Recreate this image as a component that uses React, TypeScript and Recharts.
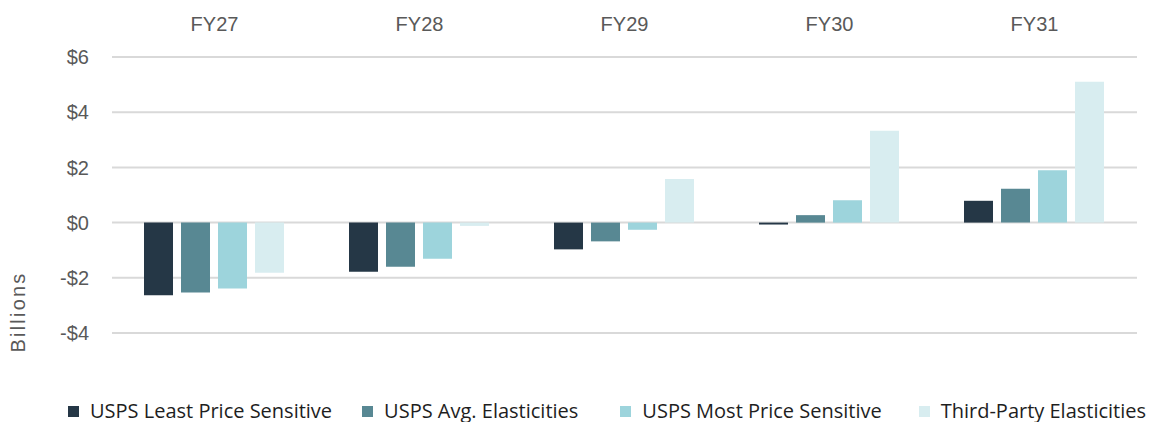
import React from 'react'
import {
    BarChart,
    Bar,
    XAxis,
    YAxis,
    CartesianGrid,
} from 'recharts'

const FISCAL_YEARS = ['FY27', 'FY28', 'FY29', 'FY30', 'FY31']
const LEAST_SENSITIVE = [-2.63, -1.78, -0.97, -0.07, 0.79]
const AVG_ELASTICITIES = [-2.53, -1.6, -0.68, 0.27, 1.23]
const MOST_SENSITIVE = [-2.39, -1.31, -0.26, 0.81, 1.9]
const THIRD_PARTY = [-1.82, -0.12, 1.58, 3.33, 5.1]
const Y_TICKS = [-4, -2, 0, 2, 4, 6]

const SERIES = [
    { key: 'least', name: 'USPS Least Price Sensitive', color: '#253746' },
    { key: 'avg', name: 'USPS Avg. Elasticities', color: '#588893' },
    { key: 'most', name: 'USPS Most Price Sensitive', color: '#9dd4dc' },
    { key: 'third', name: 'Third-Party Elasticities', color: '#d8edf0' },
]

// spacing before each legend entry, matched to the original layout
const LEGEND_GAPS = [0, 30, 42, 37]

const data = FISCAL_YEARS.map((fy, i) => ({
    fy,
    least: LEAST_SENSITIVE[i],
    avg: AVG_ELASTICITIES[i],
    most: MOST_SENSITIVE[i],
    third: THIRD_PARTY[i],
}))

if (typeof document !== 'undefined') document.body.style.margin = '0'

const AXIS_FONT = 'Liberation Sans, Arial, sans-serif'

function fmtMoney(v: number) {
    return v < 0 ? `-$${Math.abs(v)}` : `$${v}`
}

function BillionsLabel({ viewBox }: any) {
    if (!viewBox) return null
    const x = viewBox.x + 18
    const y = viewBox.y + viewBox.height - 21
    return (
        <text
            x={x}
            y={y}
            transform={`rotate(-90, ${x}, ${y})`}
            textAnchor="middle"
            dominantBaseline="central"
            fontSize={20}
            letterSpacing={2.2}
            fontFamily={AXIS_FONT}
            fill="#595959"
        >
            Billions
        </text>
    )
}

function ChartLegend() {
    return (
        <div style={{ position: 'absolute', left: 68, top: 401, width: 1081, height: 20, display: 'flex', alignItems: 'center', fontFamily: '"Open Sans", sans-serif', fontSize: 20, lineHeight: '20px', color: '#1e1e1e', whiteSpace: 'nowrap' }}>
            {SERIES.map((s, i) => (
                <div key={s.key} style={{ display: 'flex', alignItems: 'center', marginLeft: LEGEND_GAPS[i] }}>
                    <span style={{ display: 'inline-block', width: 11, height: 11, background: s.color, marginRight: 11 }} />
                    <span>{s.name}</span>
                </div>
            ))}
        </div>
    )
}

export default function App() {
    return (
        <div style={{ position: 'relative', width: 1149, height: 422 }}>
            <BarChart
                width={1149}
                height={422}
                data={data}
                margin={{ top: 27, right: 12, bottom: 89, left: 0 }}
                barCategoryGap={32}
                barGap={8}
            >
                <CartesianGrid vertical={false} stroke="#d9d9d9" strokeWidth={2} />
                <XAxis
                    dataKey="fy"
                    orientation="top"
                    height={30}
                    axisLine={false}
                    tickLine={false}
                    tickMargin={20}
                    tick={{ fontSize: 20, fill: '#595959', fontFamily: AXIS_FONT }}
                />
                <YAxis
                    width={112}
                    domain={[-4, 6]}
                    ticks={Y_TICKS}
                    tickFormatter={fmtMoney}
                    axisLine={false}
                    tickLine={false}
                    tickMargin={17}
                    tick={{ fontSize: 20, fill: '#595959', fontFamily: AXIS_FONT }}
                    label={<BillionsLabel />}
                />
                {SERIES.map((s) => (
                    <Bar
                        key={s.key}
                        dataKey={s.key}
                        name={s.name}
                        fill={s.color}
                        isAnimationActive={false}
                    />
                ))}
            </BarChart>
            <ChartLegend />
        </div>
    )
}
